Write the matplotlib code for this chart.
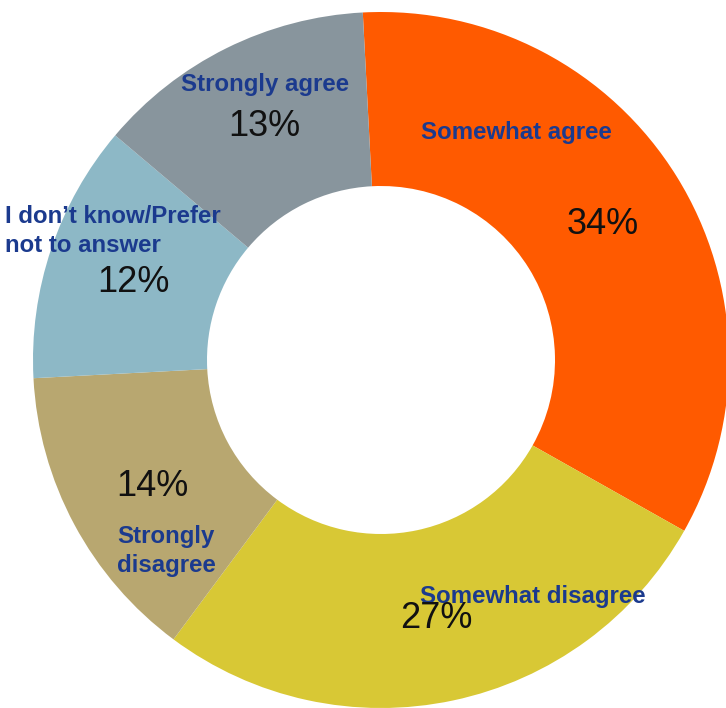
import matplotlib
matplotlib.use("Agg")
import matplotlib.pyplot as plt

# answers, clockwise from the top
labels = ["Somewhat agree", "Somewhat disagree", "Strongly\ndisagree",
          "I don’t know/Prefer\nnot to answer", "Strongly agree"]
shares = [34, 27, 14, 12, 13]
colors = ["#FF5A00", "#D8C835", "#B8A770", "#8DB8C6", "#88959D"]

W, H = 726, 708
fig = plt.figure(figsize=(W / 100, H / 100), dpi=100)
# donut centre at pixel (381, 360), outer radius 348 px
ax = fig.add_axes([(381 - 348) / W, (H - 360 - 348) / H, 696 / W, 696 / H])
ax.pie(shares, colors=colors, startangle=93, counterclock=False,
       radius=1.0, wedgeprops=dict(width=0.5, linewidth=0))
ax.set_xlim(-1, 1)
ax.set_ylim(-1, 1)
ax.set_aspect("equal")
ax.axis("off")

navy = "#1B3A8E"
def px(x, y):
    return x / W, 1 - y / H

# label text: (pixel x, pixel y, horizontal alignment)
lab_pos = [(516, 133, "center"), (533, 597, "center"), (117, 551, "left"),
           (5, 231, "left"), (265, 85, "center")]
pct_pos = [(603, 224), (436, 619), (152, 486), (133, 282), (264, 127)]

for lab, (x, y, ha) in zip(labels, lab_pos):
    fig.text(*px(x, y), lab, ha=ha, va="center", color=navy,
             fontsize=17.3, fontweight="bold", family="Liberation Sans",
             linespacing=1.3)

for s, (x, y) in zip(shares, pct_pos):
    fig.text(*px(x, y), f"{s}%", ha="center", va="center", color="#111111",
             fontsize=26, family="Liberation Sans")

fig.savefig("out.png", dpi=100)
